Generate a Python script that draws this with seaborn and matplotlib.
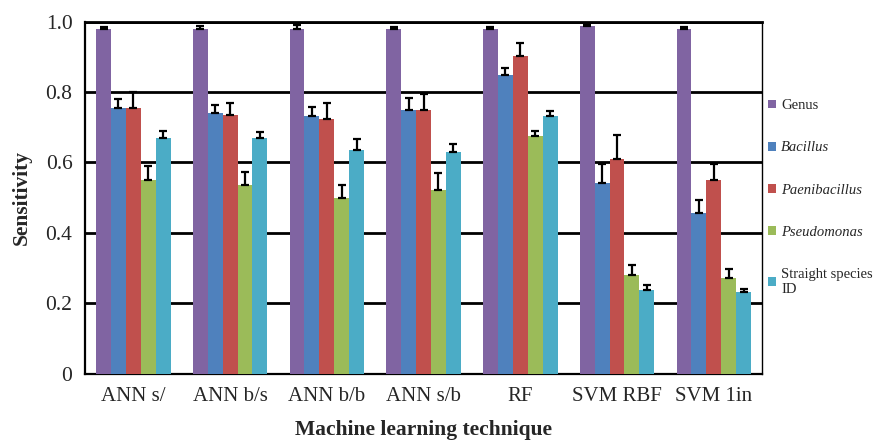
import numpy as np
import pandas as pd
import seaborn as sns
import matplotlib.pyplot as plt

# data
techniques = ["ANN s/", "ANN b/s", "ANN b/b", "ANN s/b", "RF", "SVM RBF", "SVM 1in"]
classes = ["Genus", "Bacillus", "Paenibacillus", "Pseudomonas", "Straight species\nID"]

genus = [0.979, 0.979, 0.979, 0.979, 0.979, 0.988, 0.979]
bacillus = [0.755, 0.741, 0.732, 0.749, 0.849, 0.542, 0.456]
paenibacillus = [0.755, 0.735, 0.724, 0.749, 0.903, 0.610, 0.550]
pseudomonas = [0.550, 0.536, 0.499, 0.522, 0.675, 0.280, 0.272]
straight = [0.670, 0.670, 0.636, 0.630, 0.732, 0.238, 0.232]

genus_err = [0.006, 0.008, 0.011, 0.007, 0.007, 0.003, 0.007]
bacillus_err = [0.026, 0.022, 0.024, 0.035, 0.020, 0.054, 0.037]
paenibacillus_err = [0.045, 0.035, 0.045, 0.044, 0.037, 0.069, 0.046]
pseudomonas_err = [0.041, 0.038, 0.036, 0.047, 0.013, 0.029, 0.026]
straight_err = [0.020, 0.015, 0.030, 0.022, 0.015, 0.013, 0.009]

colors = ["#8064A2", "#4F81BD", "#C0504D", "#9BBB59", "#4BACC6"]

values = [genus, bacillus, paenibacillus, pseudomonas, straight]
errors = [genus_err, bacillus_err, paenibacillus_err, pseudomonas_err, straight_err]

df = pd.DataFrame({
    "technique": np.tile(techniques, len(classes)),
    "sens": np.concatenate(values),
    "cls": np.repeat(classes, len(techniques)),
})

sns.set_style("white")
plt.rcParams["font.family"] = ["Liberation Serif", "DejaVu Serif"]

fig = plt.figure(figsize=(8.76, 4.41), dpi=100)
ax = fig.add_axes([0.097, 0.153, 0.773, 0.798])

sns.barplot(data=df, x="technique", y="sens", hue="cls", palette=colors,
            saturation=1, width=0.77, linewidth=0, ax=ax, errorbar=None, zorder=3)

# upper error bars only
for cont, err in zip(ax.containers, errors):
    xs = [b.get_x() + b.get_width() / 2 for b in cont]
    hs = [b.get_height() for b in cont]
    ax.errorbar(xs, hs, yerr=[np.zeros(len(err)), err], fmt="none",
                ecolor="black", elinewidth=1.6, capsize=2.8, capthick=1.6, zorder=4)

ax.set_ylim(0, 1.0)
ax.set_xlim(-0.5, len(techniques) - 0.5)
ax.set_yticks([0, 0.2, 0.4, 0.6, 0.8, 1.0])
ax.set_yticklabels(["0", "0.2", "0.4", "0.6", "0.8", "1.0"])
ax.yaxis.grid(True, color="black", linewidth=2)
ax.set_axisbelow(True)

# ticks at category boundaries, labels at centres
ax.set_xticks(np.arange(-0.5, len(techniques)), minor=False)
ax.set_xticklabels([])
ax.set_xticks(np.arange(len(techniques)), minor=True)
ax.set_xticklabels(techniques, minor=True)
ax.tick_params(axis="x", which="major", direction="out", length=6, width=1.5, color="black")
ax.tick_params(axis="x", which="minor", length=0, pad=10, labelsize=15)
ax.tick_params(axis="y", direction="inout", length=10, width=1.5, color="black", labelsize=15.5, pad=4)

for side in ["left", "bottom"]:
    ax.spines[side].set_color("black")
    ax.spines[side].set_linewidth(1.6)
ax.spines["right"].set_color("black")
ax.spines["right"].set_linewidth(1.0)
ax.spines["top"].set_color("black")
ax.spines["top"].set_linewidth(2.0)

ax.set_xlabel("Machine learning technique", fontsize=15.5, fontweight="bold", labelpad=10)
ax.set_ylabel("Sensitivity", fontsize=15.5, fontweight="bold", labelpad=10)

leg = ax.legend(loc="center left", bbox_to_anchor=(1.0, 0.50), frameon=False,
                fontsize=10.5, handlelength=0.55, handleheight=0.55, handletextpad=0.35,
                labelspacing=2.0, borderaxespad=0.0)
for t in leg.get_texts():
    if t.get_text() in ["Bacillus", "Paenibacillus", "Pseudomonas"]:
        t.set_fontstyle("italic")

fig.savefig("out.png", dpi=100)
